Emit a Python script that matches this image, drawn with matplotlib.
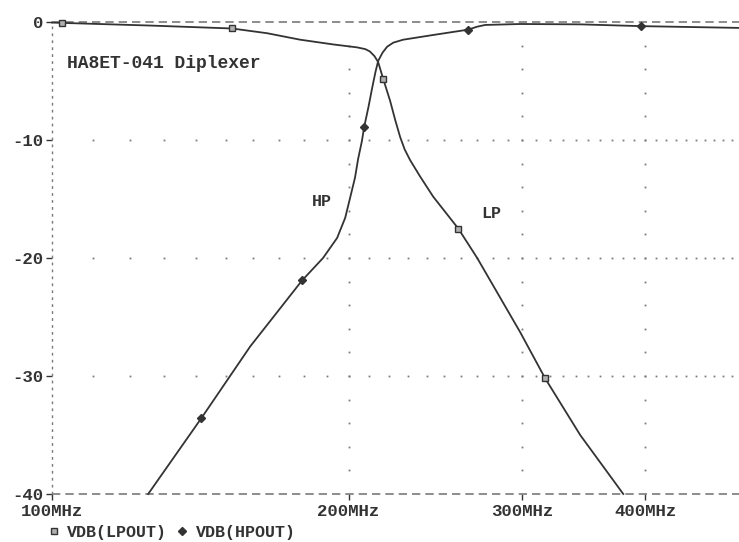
import numpy as np
import matplotlib
matplotlib.use('Agg')
from matplotlib import pyplot as plt
from matplotlib import ticker

# LP output (VDB(LPOUT)), dB vs MHz
lp_freq = [100, 125.7, 152.3, 165.3, 178.6, 192.9, 204.0, 208.0, 210.2, 212.5, 214.3,
           216.8, 218.5, 220.4, 223.0, 225.6, 228.0, 230.9, 236.4, 243.7, 258.4,
           270.1, 298.7, 316.6, 343.6, 380]
lp_db = [-0.05, -0.3, -0.55, -0.95, -1.5, -1.9, -2.15, -2.3, -2.5, -2.9, -3.4,
         -4.8, -5.7, -6.7, -8.3, -9.75, -10.8, -11.7, -13.1, -14.8, -17.5,
         -20.0, -26.3, -30.2, -35.0, -40.0]
lp_mark_freq = [102.4, 152.3, 216.8, 258.4, 316.6]
lp_mark_db = [-0.05, -0.55, -4.8, -17.5, -30.2]

# HP output (VDB(HPOUT))
hp_freq = [125.2, 141.7, 158.9, 179.4, 188.4, 194.7, 198.4, 200.7, 203.0, 204.5,
           206.3, 207.4, 209.5, 211.3, 213.0, 214.3, 216.5, 218.8, 222.0, 227.2,
           243.7, 264.4, 270.0, 275.2, 298.7, 343.6, 396, 498]
hp_db = [-40, -33.6, -27.5, -21.9, -20.0, -18.3, -16.6, -14.9, -13.2, -11.6,
         -10.1, -8.9, -7.2, -5.6, -4.2, -3.3, -2.6, -2.1, -1.75, -1.5,
         -1.1, -0.65, -0.4, -0.25, -0.17, -0.2, -0.35, -0.5]
hp_mark_freq = [141.7, 179.4, 207.4, 264.4, 396]
hp_mark_db = [-33.6, -21.9, -8.9, -0.65, -0.35]

x_ticks = [100, 200, 300, 400]
x_labels = ['100MHz', '200MHz', '300MHz', '400MHz']
y_ticks = [0, -10, -20, -30, -40]
y_labels = ['0', '-10', '-20', '-30', '-40']

ink = '#333333'
dotc = '#7a7a7a'
font = {'family': 'Liberation Mono', 'weight': 'bold'}

fig = plt.figure(figsize=(7.39, 5.42), dpi=100)
ax = fig.add_axes([52/739, 1 - 494/542, 1 - 52/739, (494 - 22)/542])
ax.set_xscale('log')
ax.set_xlim(100, 498)
ax.set_ylim(-40, 0)
for s in ax.spines.values():
    s.set_visible(False)

# frame lines, dashed like the plotter output
ax.axhline(0, color=dotc, lw=1.2, dashes=(5, 3), clip_on=False)
ax.axhline(-40, color=dotc, lw=1.2, dashes=(5, 3), clip_on=False)
ax.axvline(100, color=dotc, lw=1.0, dashes=(2, 3), clip_on=False)

# dotted grid
grid_freq = np.arange(110, 500, 10)
for level in [-10, -20, -30]:
    ax.plot(grid_freq, np.full(len(grid_freq), level), ls='none', marker='s',
            ms=1.3, mew=0, color=dotc)
grid_db = np.arange(-38, 0, 2)
for f in [200, 300, 400]:
    ax.plot(np.full(len(grid_db), f), grid_db, ls='none', marker='s',
            ms=1.3, mew=0, color=dotc)

# curves
ax.plot(lp_freq, lp_db, color=ink, lw=1.3, clip_on=False)
ax.plot(hp_freq, hp_db, color=ink, lw=1.3, clip_on=False)
ax.plot(lp_mark_freq, lp_mark_db, ls='none', marker='s', ms=5, mfc='#b0b0b0',
        mec=ink, mew=1, label='VDB(LPOUT)', clip_on=False)
ax.plot(hp_mark_freq, hp_mark_db, ls='none', marker='D', ms=4, mfc=ink,
        mec=ink, label='VDB(HPOUT)', clip_on=False)

ax.text(103.6, -3.5, 'HA8ET-041 Diplexer', fontsize=13, color=ink, va='center', **font)
ax.text(188, -15.25, 'HP', fontsize=12, color=ink, ha='center', va='center', **font)
ax.text(279, -16.2, 'LP', fontsize=12, color=ink, ha='center', va='center', **font)

ax.set_xticks(x_ticks)
ax.set_xticklabels(x_labels)
ax.xaxis.set_minor_locator(ticker.NullLocator())
ax.set_yticks(y_ticks)
ax.set_yticklabels(y_labels)
ax.tick_params(axis='both', colors=ink, length=4, width=1)
ax.tick_params(axis='x', pad=3)
ax.tick_params(axis='y', pad=2)
for lab in ax.get_xticklabels() + ax.get_yticklabels():
    lab.set_fontfamily('Liberation Mono')
    lab.set_fontweight('bold')
    lab.set_fontsize(12.5)
    lab.set_color(ink)

leg = fig.legend(loc='upper left', bbox_to_anchor=(49/739, 1 - 525/542), ncol=2,
                 frameon=False, handlelength=0.6, handletextpad=0.5,
                 columnspacing=0.6, borderpad=0, borderaxespad=0,
                 prop={'family': 'Liberation Mono', 'weight': 'bold', 'size': 12})
for t in leg.get_texts():
    t.set_color(ink)

plt.savefig('out.png', dpi=100)
